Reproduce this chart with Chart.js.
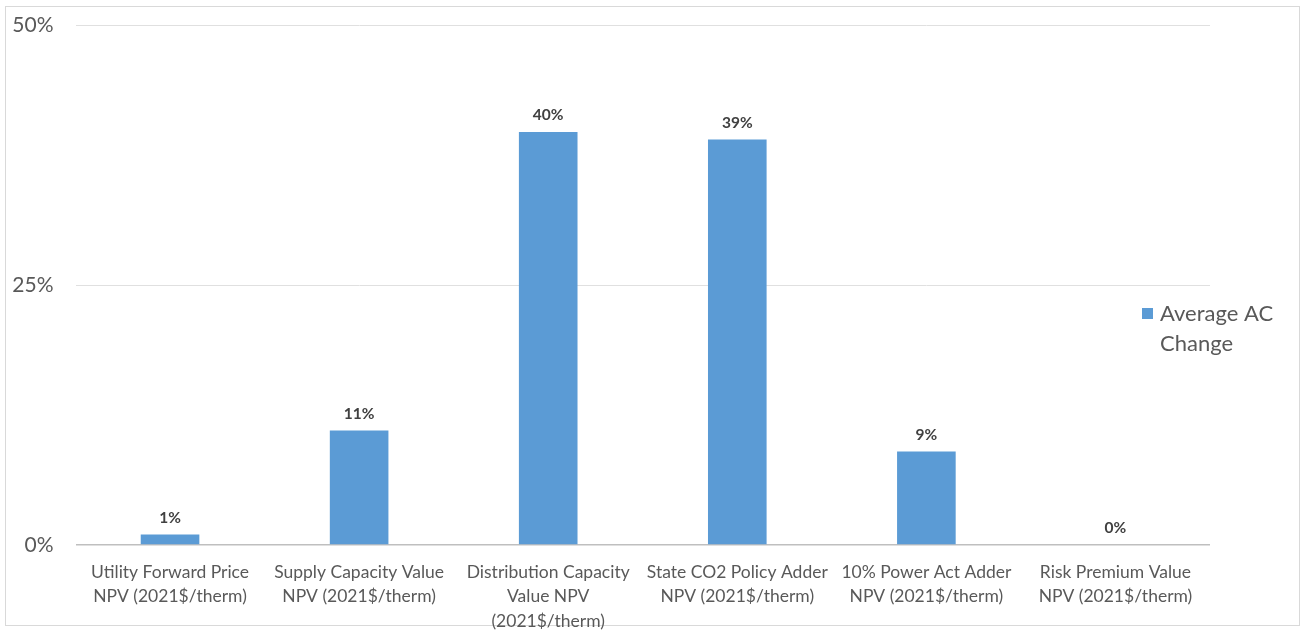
<!DOCTYPE html>
<html>
<head>
<meta charset="utf-8">
<script src="https://cdn.jsdelivr.net/npm/chart.js@4/dist/chart.umd.min.js"></script>
<style>
  html, body { margin: 0; padding: 0; background: #fff; }
  #wrap { position: absolute; left: 0; top: 0; width: 1306px; height: 630px; }
</style>
</head>
<body>
<div id="wrap"><canvas id="chart"></canvas></div>
<script>
// data
const categories = [
  ['Utility Forward Price', 'NPV (2021$/therm)'],
  ['Supply Capacity Value', 'NPV (2021$/therm)'],
  ['Distribution Capacity', 'Value NPV', '(2021$/therm)'],
  ['State CO2 Policy Adder', 'NPV (2021$/therm)'],
  ['10% Power Act Adder', 'NPV (2021$/therm)'],
  ['Risk Premium Value', 'NPV (2021$/therm)']
];
const avgChange = [1.0, 11.0, 39.7, 39.0, 9.0, 0.0];
const seriesName = ['Average AC', 'Change'];
const yTicks = [0, 25, 50];

const fontFam = 'Lato, "Open Sans", sans-serif';

// outer frame like the original picture
const framePlugin = {
  id: 'frame',
  beforeDraw(chart) {
    const c = chart.ctx;
    c.save();
    c.strokeStyle = '#d9d9d9';
    c.lineWidth = 1;
    c.strokeRect(5.5, 6.5, 1294, 619);
    c.restore();
  }
};

// value labels above the bars
const valueLabels = {
  id: 'valueLabels',
  afterDatasetsDraw(chart) {
    const c = chart.ctx;
    const meta = chart.getDatasetMeta(0);
    c.save();
    c.font = 'bold 15.5px ' + fontFam;
    c.fillStyle = '#404040';
    c.textAlign = 'center';
    c.textBaseline = 'bottom';
    meta.data.forEach((bar, i) => {
      const v = chart.data.datasets[0].data[i];
      c.fillText(Math.round(v) + '%', bar.x, bar.y - 9);
    });
    c.restore();
  }
};

// legend on the right, wrapped to two lines
const sideLegend = {
  id: 'sideLegend',
  afterDraw(chart) {
    const c = chart.ctx;
    const ds = chart.data.datasets[0];
    c.save();
    c.fillStyle = ds.backgroundColor;
    c.fillRect(1142, 308, 11, 11);
    c.font = '22px ' + fontFam;
    c.fillStyle = '#595959';
    c.textAlign = 'left';
    c.textBaseline = 'middle';
    seriesName.forEach((t, i) => c.fillText(t, 1160, 314 + i * 30));
    c.restore();
  }
};

new Chart(document.getElementById('chart'), {
  type: 'bar',
  data: {
    labels: categories,
    datasets: [{
      label: seriesName.join(' '),
      data: avgChange,
      backgroundColor: '#5b9bd5',
      categoryPercentage: 1,
      barPercentage: 0.31
    }]
  },
  options: {
    responsive: true,
    maintainAspectRatio: false,
    animation: false,
    layout: { padding: { left: 0, right: 96, top: 25, bottom: 0 } },
    plugins: {
      legend: { display: false },
      tooltip: { enabled: false }
    },
    scales: {
      x: {
        grid: { display: false, drawTicks: false },
        border: { display: false },
        ticks: {
          color: '#595959',
          font: { family: fontFam, size: 17.5, lineHeight: 1.4 },
          padding: 15,
          maxRotation: 0,
          autoSkip: false
        },
        afterFit(scale) { scale.height = 85; }
      },
      y: {
        min: 0,
        max: 50,
        afterBuildTicks(scale) { scale.ticks = yTicks.map(v => ({ value: v })); },
        grid: {
          drawTicks: false,
          color: ctx => ctx.tick && ctx.tick.value === 0 ? '#bfbfbf' : '#e0e0e0',
          lineWidth: ctx => ctx.tick && ctx.tick.value === 0 ? 1.5 : 1
        },
        border: { display: false },
        ticks: {
          color: '#595959',
          font: { family: fontFam, size: 21 },
          padding: 22,
          callback: v => v + '%'
        },
        afterFit(scale) {
          scale.width = 75.5;
          scale.paddingTop = 0;
          scale.paddingBottom = 0;
        }
      }
    }
  },
  plugins: [framePlugin, valueLabels, sideLegend]
});
</script>
</body>
</html>
